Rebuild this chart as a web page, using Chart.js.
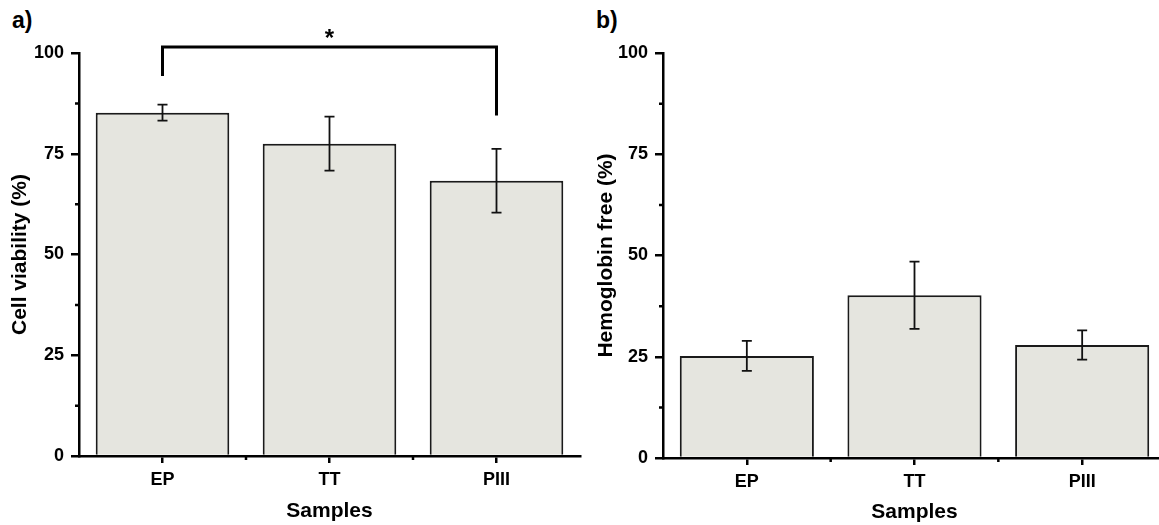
<!DOCTYPE html>
<html>
<head>
<meta charset="utf-8">
<script src="https://cdn.jsdelivr.net/npm/chart.js@4.4.1/dist/chart.umd.min.js"></script>
<style>
  body { margin: 0; background: #fff; width: 1159px; height: 525px; overflow: hidden; position: relative;
         font-family: "Liberation Sans", Arial, sans-serif; }
  .panel { position: absolute; top: 0; height: 525px; }
  .tag { position: absolute; top: 7px; font-weight: bold; font-size: 23px; color: #000; }
</style>
</head>
<body>
<div class="tag" style="left:12px">a)</div>
<div class="tag" style="left:596px">b)</div>
<div class="panel" style="left:0; width:582px"><canvas id="viability"></canvas></div>
<div class="panel" style="left:584px; width:590px"><canvas id="hemoglobin"></canvas></div>

<script>
// values
const samples = ['EP', 'TT', 'PIII'];
const viability = [85.2, 77.5, 68.3];
const viabilityErr = [2.0, 6.7, 7.9];
const hemoglobin = [25.2, 40.2, 27.9];
const hemoglobinErr = [3.7, 8.3, 3.6];
const yTicks = [0, 25, 50, 75, 100];
const yMinorTicks = [12.5, 37.5, 62.5, 87.5];

// significance bracket between EP and PIII (panel a)
const sigPair = ['EP', 'PIII'];
const sigTop = 101.5;
const sigLegEnds = [94.3, 84.5];
const sigLabel = '*';

Chart.defaults.font.family = '"Liberation Sans", Arial, sans-serif';
Chart.defaults.font.weight = 'bold';
Chart.defaults.color = '#000';

// error bars + minor ticks + bracket
const extras = {
  id: 'extras',
  afterDatasetsDraw(chart, args, opts) {
    const ctx = chart.ctx;
    const x = chart.scales.x, y = chart.scales.y;
    const meta = chart.getDatasetMeta(0);
    ctx.save();
    ctx.strokeStyle = '#111';
    ctx.lineWidth = 1.8;
    meta.data.forEach((bar, i) => {
      const v = chart.data.datasets[0].data[i];
      const e = opts.errors[i];
      const yt = y.getPixelForValue(v + e), yb = y.getPixelForValue(v - e);
      ctx.beginPath();
      ctx.moveTo(bar.x, yt); ctx.lineTo(bar.x, yb);
      ctx.moveTo(bar.x - 5, yt); ctx.lineTo(bar.x + 5, yt);
      ctx.moveTo(bar.x - 5, yb); ctx.lineTo(bar.x + 5, yb);
      ctx.stroke();
    });
    // minor ticks
    ctx.strokeStyle = '#000';
    ctx.lineWidth = 2.5;
    ctx.beginPath();
    yMinorTicks.forEach(v => {
      const p = y.getPixelForValue(v);
      ctx.moveTo(x.left - 4, p); ctx.lineTo(x.left, p);
    });
    [0.5, 1.5].forEach(v => {
      const p = x.getPixelForValue(v);
      ctx.moveTo(p, y.bottom); ctx.lineTo(p, y.bottom + 4);
    });
    ctx.stroke();

    if (opts.bracket) {
      const x1 = x.getPixelForValue(samples.indexOf(sigPair[0]));
      const x2 = x.getPixelForValue(samples.indexOf(sigPair[1]));
      const yt = y.getPixelForValue(sigTop);
      ctx.lineWidth = 3;
      ctx.beginPath();
      ctx.moveTo(x1, y.getPixelForValue(sigLegEnds[0]));
      ctx.lineTo(x1, yt);
      ctx.lineTo(x2, yt);
      ctx.lineTo(x2, y.getPixelForValue(sigLegEnds[1]));
      ctx.stroke();
      ctx.fillStyle = '#000';
      ctx.font = 'bold 24px "Liberation Sans", Arial, sans-serif';
      ctx.textAlign = 'center';
      ctx.textBaseline = 'middle';
      ctx.fillText(sigLabel, (x1 + x2) / 2, yt - 8);
    }
    ctx.restore();
  }
};

function makeChart(id, values, errors, yTitle, opt) {
  return new Chart(document.getElementById(id), {
    type: 'bar',
    data: {
      labels: samples,
      datasets: [{
        data: values,
        backgroundColor: '#e5e5df',
        borderColor: '#1a1a1a',
        borderWidth: 2,
        barPercentage: 0.8,
        categoryPercentage: 1.0
      }]
    },
    plugins: [extras],
    options: {
      responsive: true,
      maintainAspectRatio: false,
      animation: false,
      layout: { padding: { top: 53, right: opt.right, left: 0, bottom: 0 } },
      plugins: {
        legend: { display: false },
        tooltip: { enabled: false },
        extras: { errors: errors, bracket: opt.bracket }
      },
      scales: {
        x: {
          offset: true,
          border: { color: '#000', width: 2.5 },
          grid: { offset: false, drawOnChartArea: false, color: '#000', lineWidth: 2.5, tickLength: 7 },
          ticks: { font: { size: 18, weight: 'bold' }, color: '#000', padding: 6 },
          title: { display: true, text: 'Samples', font: { size: 21, weight: 'bold' }, color: '#000', padding: { bottom: opt.bp } },
          afterFit: s => { s.height = opt.xh; }
        },
        y: {
          min: 0, max: 100,
          afterBuildTicks: s => { s.ticks = yTicks.map(v => ({ value: v })); },
          border: { color: '#000', width: 2.5 },
          grid: { drawOnChartArea: false, color: '#000', lineWidth: 2.5, tickLength: 8 },
          ticks: { font: { size: 18, weight: 'bold' }, color: '#000', padding: 7 },
          title: { display: true, text: yTitle, font: { size: 21, weight: 'bold' }, color: '#000', padding: { top: opt.tp } },
          afterFit: s => { s.width = 79; }
        }
      }
    }
  });
}

makeChart('viability', viability, viabilityErr, 'Cell viability (%)', { right: 2, xh: 69, tp: 8, bp: 1, bracket: true });
makeChart('hemoglobin', hemoglobin, hemoglobinErr, 'Hemoglobin free (%)', { right: 8, xh: 67, tp: 10, bp: 0, bracket: false });
</script>
</body>
</html>
